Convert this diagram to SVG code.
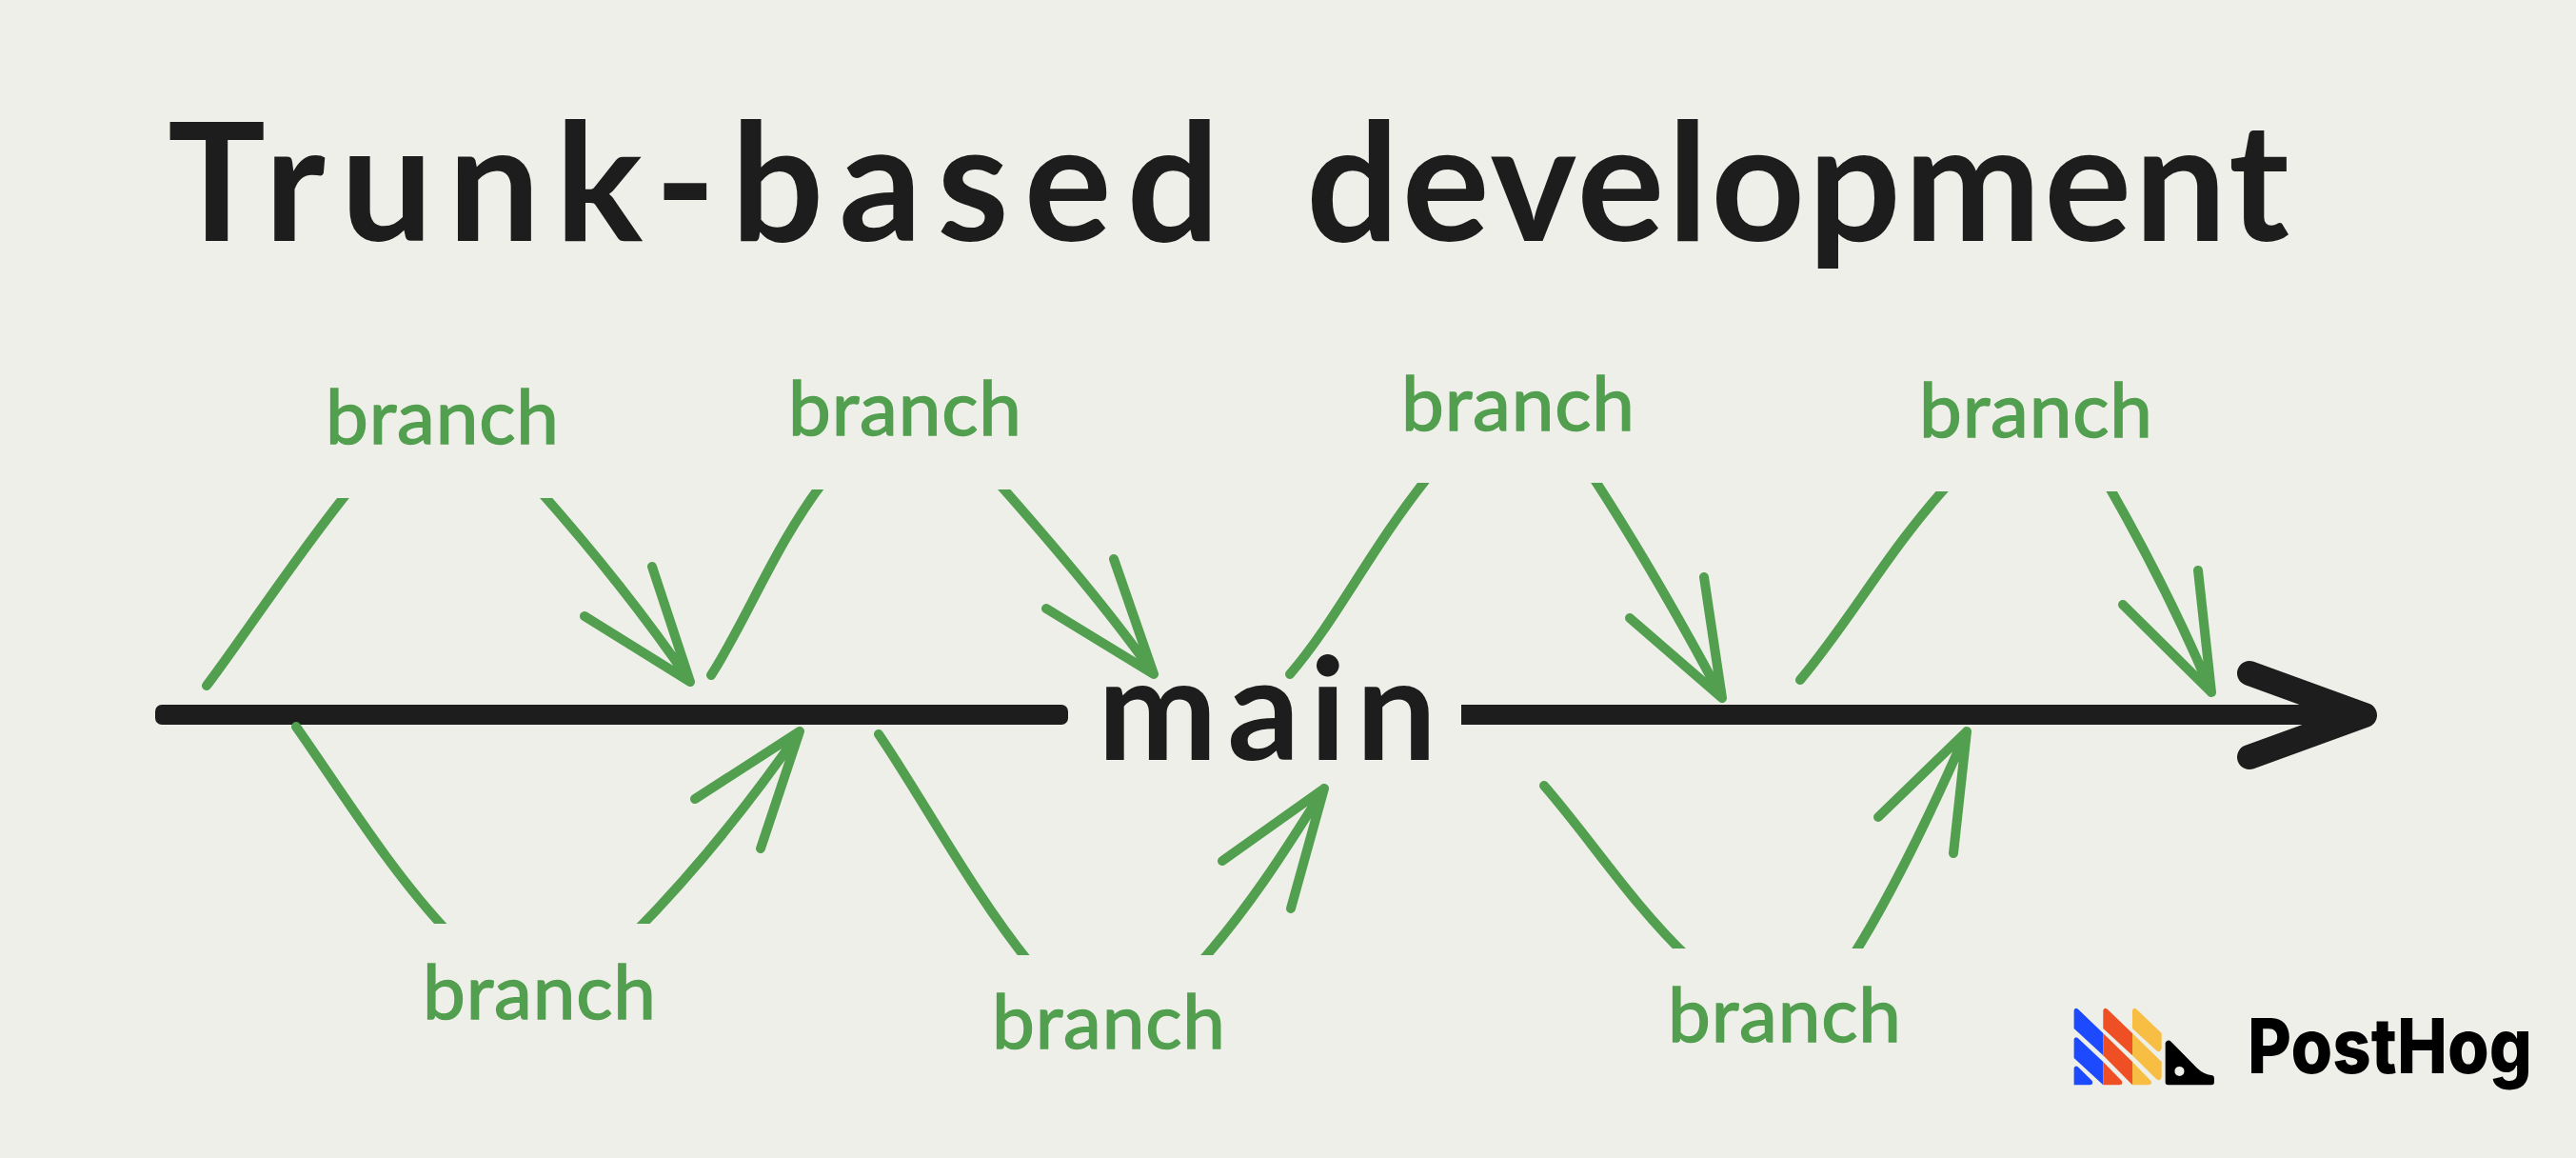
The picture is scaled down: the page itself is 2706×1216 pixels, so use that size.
<svg xmlns="http://www.w3.org/2000/svg" width="2706" height="1216" viewBox="0 0 2706 1216">
<defs><style>
.bg{fill:#EEEFE9}
.trunk{fill:#1D1D1D}
.head{fill:none;stroke:#1D1D1D;stroke-width:26;stroke-linecap:round;stroke-linejoin:round}
.br{fill:none;stroke:#529F4F;stroke-width:10;stroke-linecap:round;stroke-linejoin:round}
.hand{font-family:"Lato","Noto Sans",sans-serif}
.title{font-size:172px;font-weight:700;fill:#1D1D1D}
.mainlabel{font-size:150px;font-weight:700;fill:#1D1D1D}
.label{font-size:80px;font-weight:400;fill:#529F4F;stroke:#529F4F;stroke-width:1.5}
.brand{font-family:"Inter","Liberation Sans",sans-serif;font-size:80px;font-weight:800;fill:#000}
</style></defs>
<rect class="bg" width="2706" height="1216"/>
<g id="title"><text class="hand title" y="253"><tspan x="176" textLength="1105" lengthAdjust="spacing">Trunk-based</tspan> <tspan x="1372" textLength="1033" lengthAdjust="spacing">development</tspan></text></g>
<g id="connectors">
<rect class="trunk" x="163" y="740" width="959" height="21" rx="7"/>
<rect class="trunk" x="1535" y="740" width="940" height="21"/>
<path class="head" d="M2363 707L2484 751L2363 795"/>
<path class="br" d="M217 720C255 670 310 585 370 511"/>
<path class="br" d="M564 512C620 575 680 650 725 716M614 647L725 716L685 595"/>
<path class="br" d="M747 709C785 650 815 570 868 502"/>
<path class="br" d="M1045 503C1100 565 1165 640 1212 708M1099 639L1212 708L1170 587"/>
<path class="br" d="M1355 708C1405 650 1440 575 1504 496"/>
<path class="br" d="M1670 496C1725 580 1770 660 1809 733M1712 649L1809 733L1790 606"/>
<path class="br" d="M1891 714C1945 650 1985 575 2051 504"/>
<path class="br" d="M2212 505C2255 580 2295 660 2323 727M2230 635L2323 727L2309 599"/>
<path class="br" d="M311 763C355 825 410 915 472 980"/>
<path class="br" d="M666 980C730 915 790 840 840 768M730 839L840 768L799 891"/>
<path class="br" d="M923 771C970 840 1020 935 1083 1013"/>
<path class="br" d="M1259 1013C1315 950 1355 885 1391 828M1284 904L1391 828L1356 954"/>
<path class="br" d="M1622 825C1670 880 1715 950 1774 1006"/>
<path class="br" d="M1945 1006C1990 935 2030 850 2066 768M1973 858L2066 768L2052 896"/>
</g>
<g id="main-label"><text class="hand mainlabel" x="1153" y="798" textLength="356" lengthAdjust="spacing">main</text></g>
<g id="branch-1"><rect class="bg" x="340" y="490" width="250" height="33"/><text class="hand label" x="342" y="466" textLength="245">branch</text></g>
<g id="branch-2"><rect class="bg" x="840" y="480" width="230" height="34"/><text class="hand label" x="828" y="457" textLength="245">branch</text></g>
<g id="branch-3"><rect class="bg" x="1480" y="475" width="210" height="32"/><text class="hand label" x="1472" y="452" textLength="245">branch</text></g>
<g id="branch-4"><rect class="bg" x="2030" y="485" width="205" height="31"/><text class="hand label" x="2016" y="459" textLength="245">branch</text></g>
<g id="branch-5"><rect class="bg" x="450" y="970" width="240" height="20"/><text class="hand label" x="444" y="1070" textLength="245">branch</text></g>
<g id="branch-6"><rect class="bg" x="1050" y="1003" width="240" height="18"/><text class="hand label" x="1042" y="1101" textLength="245">branch</text></g>
<g id="branch-7"><rect class="bg" x="1750" y="996" width="210" height="18"/><text class="hand label" x="1752" y="1094" textLength="245">branch</text></g>
<g id="posthog-logo">
<g transform="translate(2140 1030) scale(0.361 0.333)">
<g fill="#1D4AFF"><path d="M107 92Q112 80 122 92L192 165V235L107 150Z"/><path d="M107 184Q112 172 122 184L192 255V328L107 243Z"/><path d="M107 275Q112 263 122 275L160 315Q165 328 152 328H107Z"/></g>
<g fill="#EF4F25"><path d="M192 92Q197 80 207 92L277 165V235L192 150Z"/><path d="M192 165L277 255V328L192 235Z"/><path d="M192 255L246 315Q251 328 238 328H192Z"/></g>
<g fill="#F7BE43"><path d="M277 92Q282 80 292 92L362 165V215Q355 230 345 218L277 150Z"/><path d="M277 165L362 255V305Q355 320 345 308L277 235Z"/><path d="M277 255L331 315Q336 328 323 328H277Z"/></g>
<path fill="#000" fill-rule="evenodd" d="M373 195Q380 182 390 192L465 275Q485 296 510 298Q515 300 515 306V320Q515 328 507 328H381Q373 328 373 320ZM400 285A14 15 0 1 0 428 285A14 15 0 1 0 400 285Z"/>
</g>
<text class="brand" x="2361" y="1127" textLength="299" lengthAdjust="spacingAndGlyphs">PostHog</text>
</g>
</svg>
